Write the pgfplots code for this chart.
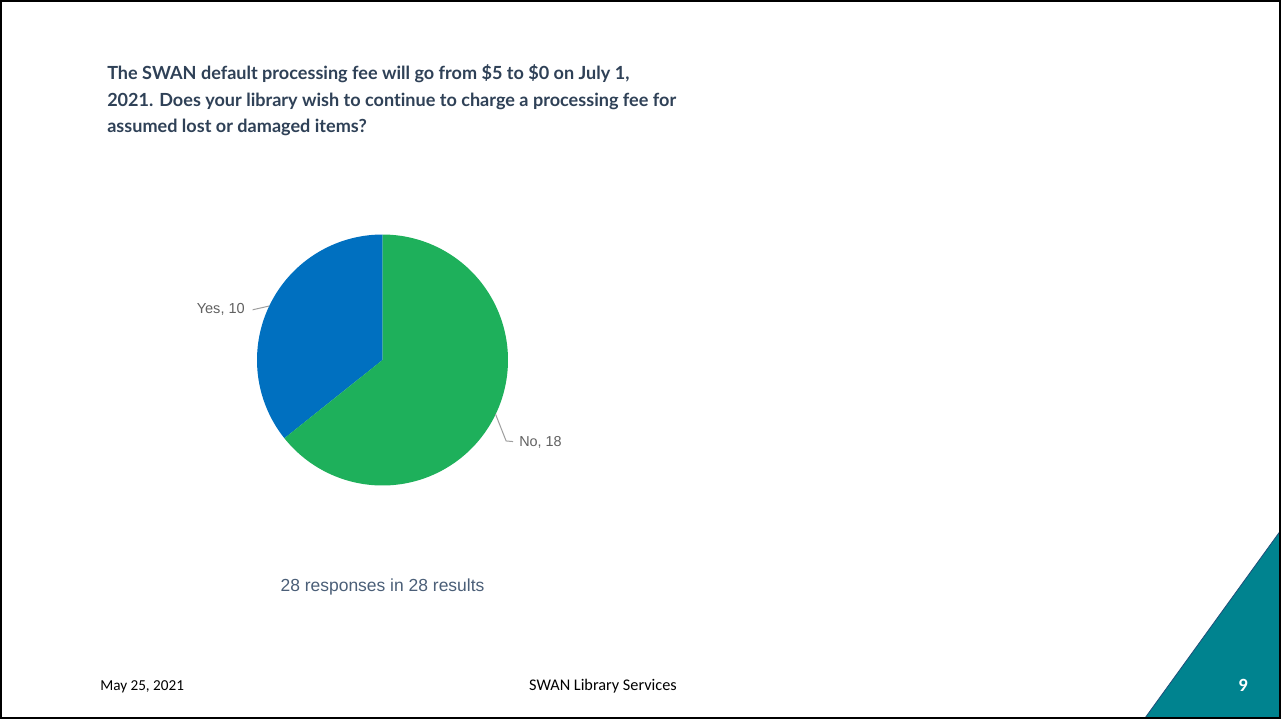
\documentclass[border=0pt]{standalone}
\usepackage{pgfplots}
\pgfplotsset{compat=1.18}
\usepackage{fontspec}
\setmainfont{Liberation Sans}
\newfontfamily\footfont{Carlito}
\newfontfamily\titlefont[Ligatures=NoCommon]{Lato}
\definecolor{swanblue}{HTML}{0070C0}
\definecolor{swangreen}{HTML}{1EB05B}
\definecolor{titlecol}{HTML}{2F4157}
\definecolor{subcol}{HTML}{4B5F78}
\definecolor{labcol}{HTML}{616161}
\definecolor{leadcol}{HTML}{9E9E9E}
\definecolor{teal}{HTML}{00838F}
\definecolor{tealedge}{HTML}{1F4E79}
% pie values
\def\yesval{10}
\def\noval{18}
\pgfmathsetmacro{\angA}{90+360*\yesval/(\yesval+\noval)}
\pgfmathsetmacro{\angB}{450}
\begin{document}
\begin{tikzpicture}
\begin{scope}[x=0.75pt,y=-0.75pt,shift={(0pt,539.25pt)}]
\path[use as bounding box] (0,0) rectangle (1281,719);
\fill[white] (0,0) rectangle (1281,719);
% teal corner
\fill[teal] (1145,718) -- (1281,530) -- (1281,718) -- cycle;
\draw[tealedge, line width=0.6pt] (1145,718) -- (1281,530);
\end{scope}
\begin{axis}[at={(286.875pt,269.25pt)}, anchor=center, scale only axis,
  width=188.25pt, height=188.25pt, hide axis, clip=false,
  xmin=-1, xmax=1, ymin=-1, ymax=1]
\addplot[fill=swanblue, draw=none, domain=90:\angA, samples=100, variable=\t]
  ({cos(t)},{sin(t)}) -- (axis cs:0,0) -- cycle;
\addplot[fill=swangreen, draw=none, domain=\angA:\angB, samples=160, variable=\t]
  ({cos(t)},{sin(t)}) -- (axis cs:0,0) -- cycle;
% leader lines
\addplot[leadcol, line width=0.75pt, mark=none] coordinates {(-0.903,0.43) (-1.035,0.40)};
\addplot[leadcol, line width=0.75pt, mark=none] coordinates {(0.90,-0.43) (0.985,-0.645) (1.04,-0.65)};
\end{axis}
\begin{scope}[x=0.75pt,y=-0.75pt,shift={(0pt,539.25pt)}]
\node[anchor=base east, text=labcol, font=\fontsize{10.9}{13}\selectfont, inner sep=0pt] at (245,313) {Yes, 10};
\node[anchor=base west, text=labcol, font=\fontsize{10.8}{13}\selectfont, inner sep=0pt] at (519,446) {No, 18};
% title (base = last line)
\node[anchor=base west, align=left, text=titlecol, inner sep=0pt,
  font=\titlefont\fontsize{13.55}{19.9}\selectfont\bfseries] at (107,133)
  {The SWAN default processing fee will go from \$5 to \$0 on July 1,\\
   2021. Does your library wish to continue to charge a processing fee for\\
   assumed lost or damaged items?};
\node[anchor=base, text=subcol, inner sep=0pt, font=\fontsize{13.1}{15}\selectfont] at (382.5,591) {28 responses in 28 results};
% footer
\node[anchor=base west, inner sep=0pt, font=\footfont\fontsize{11.4}{13}\selectfont] at (100,690) {May 25, 2021};
\node[anchor=base, inner sep=0pt, font=\footfont\fontsize{12.2}{14}\selectfont] at (603,690) {SWAN Library Services};
\node[anchor=base, inner sep=0pt, text=white, font=\footfont\fontsize{14}{16}\selectfont\bfseries] at (1243,691) {9};
% slide border
\draw[black, line width=1.5pt] (1,1) rectangle (1280,718);
\end{scope}
\end{tikzpicture}
\end{document}
